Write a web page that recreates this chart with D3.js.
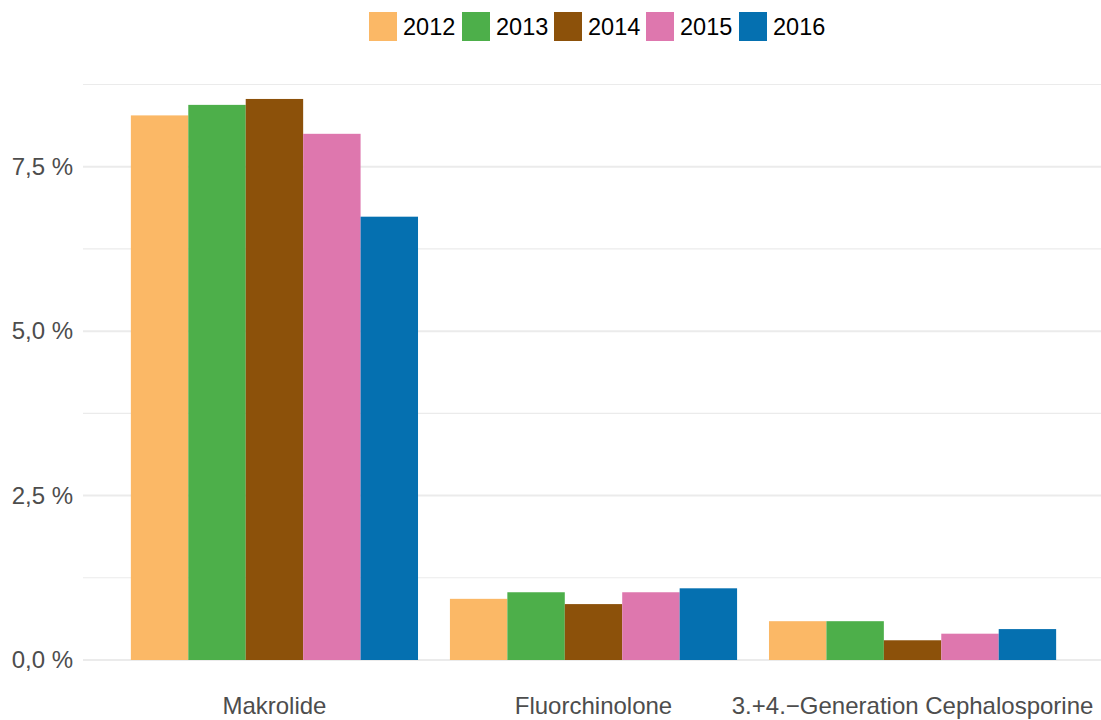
<!DOCTYPE html>
<html><head><meta charset="utf-8">
<script src="https://cdn.jsdelivr.net/npm/d3@7"></script>
<style>body{margin:0;background:#fff}svg{display:block}text{font-family:"Liberation Sans",Arial,sans-serif}</style>
</head><body><svg id="c" width="1101" height="720"></svg>
<script>
const categories = ["Makrolide", "Fluorchinolone", "3.+4.\u2212Generation Cephalosporine"];
const years = ["2012", "2013", "2014", "2015", "2016"];
const colors = ["#FBB866", "#4DAF4A", "#8C510A", "#DE77AE", "#0570B0"];
const v2012 = [8.28, 0.93, 0.59];
const v2013 = [8.44, 1.03, 0.59];
const v2014 = [8.53, 0.85, 0.30];
const v2015 = [8.00, 1.03, 0.40];
const v2016 = [6.74, 1.09, 0.47];
const majorTicks = [0, 2.5, 5, 7.5];
const minorTicks = [1.25, 3.75, 6.25, 8.75];
const series = [v2012, v2013, v2014, v2015, v2016];

const svg = d3.select("#c");
const x = d3.scaleBand().domain(categories).range([83, 1104]).paddingInner(0.1).paddingOuter(0.15);
const xi = d3.scaleBand().domain(years).range([0, x.bandwidth()]);
const y = d3.scaleLinear().domain([0, 7.5]).range([660, 166.7]);
const color = d3.scaleOrdinal().domain(years).range(colors);
const fmt = v => d3.format(".1f")(v).replace(".", ",") + " %";

// gridlines
svg.append("g").selectAll("line").data(minorTicks).join("line")
  .attr("x1", 83).attr("x2", 1101).attr("y1", d => y(d)).attr("y2", d => y(d))
  .attr("stroke", "#ebebeb").attr("stroke-width", 1.1);
svg.append("g").selectAll("line").data(majorTicks).join("line")
  .attr("x1", 83).attr("x2", 1101).attr("y1", d => y(d)).attr("y2", d => y(d))
  .attr("stroke", "#ebebeb").attr("stroke-width", 2);

// bars
const rows = [];
categories.forEach((c, i) => years.forEach((yr, j) => rows.push({c, yr, v: series[j][i]})));
svg.append("g").selectAll("rect").data(rows).join("rect")
  .attr("x", d => x(d.c) + xi(d.yr)).attr("width", xi.bandwidth())
  .attr("y", d => y(d.v)).attr("height", d => y(0) - y(d.v))
  .attr("fill", d => color(d.yr));

// y axis
const ya = svg.append("g").attr("transform", "translate(73,0)")
  .call(d3.axisLeft(y).tickValues(majorTicks).tickFormat(fmt).tickSize(0).tickPadding(0));
ya.select(".domain").remove();
ya.selectAll("text").attr("font-size", 24).attr("fill", "#4d4d4d")
  .style("font-family", '"Liberation Sans",Arial,sans-serif');

// x axis
const xa = svg.append("g").attr("transform", "translate(0,660)")
  .call(d3.axisBottom(x).tickSize(0).tickPadding(0));
xa.select(".domain").remove();
xa.selectAll("text").attr("font-size", 24).attr("fill", "#4d4d4d").attr("dy", null).attr("y", 54)
  .style("font-family", '"Liberation Sans",Arial,sans-serif');

// legend
const legX = d3.scaleOrdinal().domain(years).range([369, 462, 554, 646, 739]);
const lg = svg.append("g").selectAll("g").data(years).join("g")
  .attr("transform", d => `translate(${legX(d)},12)`);
lg.append("rect").attr("width", 28).attr("height", 29).attr("fill", d => color(d));
lg.append("text").attr("x", 34).attr("y", 23).attr("font-size", 23.5).attr("fill", "#000").text(d => d);
</script></body></html>
